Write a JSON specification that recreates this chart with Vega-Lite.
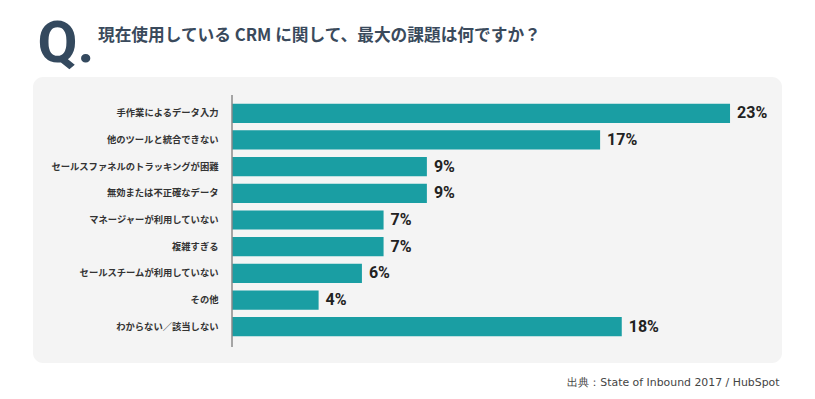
{
  "$schema": "https://vega.github.io/schema/vega-lite/v6.json",
  "width": 749,
  "height": 286,
  "autosize": {"type": "none"},
  "padding": {"left": 33, "top": 77, "right": 33, "bottom": 36},
  "background": "#ffffff",
  "title": {
    "text": "現在使用している CRM に関して、最大の課題は何ですか？",
    "anchor": "start",
    "frame": "group",
    "dx": 65,
    "dy": 43,
    "offset": 0,
    "fontSize": 16.7,
    "fontWeight": "bold",
    "color": "#3a4a5c",
    "font": "Noto Sans CJK JP",
    "baseline": "alphabetic"
  },
  "config": {
    "view": {"fill": "#f4f4f4", "stroke": null, "cornerRadius": 10}
  },
  "data": {
    "values": [
      {"item": "手作業によるデータ入力", "value": 23},
      {"item": "他のツールと統合できない", "value": 17},
      {"item": "セールスファネルのトラッキングが困難", "value": 9},
      {"item": "無効または不正確なデータ", "value": 9},
      {"item": "マネージャーが利用していない", "value": 7},
      {"item": "複雑すぎる", "value": 7},
      {"item": "セールスチームが利用していない", "value": 6},
      {"item": "その他", "value": 4},
      {"item": "わからない／該当しない", "value": 18}
    ]
  },
  "transform": [{"calculate": "datum.value + '%'", "as": "label"}],
  "layer": [
    {
      "mark": {"type": "bar", "color": "#1a9ea3"},
      "encoding": {
        "y": {
          "field": "item",
          "type": "nominal",
          "sort": null,
          "scale": {"paddingInner": 0.28, "paddingOuter": 1.04},
          "axis": {
            "orient": "left",
            "offset": -199,
            "domain": false,
            "ticks": false,
            "labelPadding": 14,
            "labelFont": "Noto Sans CJK JP",
            "labelFontSize": 9.3,
            "labelFontWeight": "bold",
            "labelColor": "#333333",
            "labelLimit": 0,
            "title": "Q.",
            "titleAngle": 0,
            "titleX": -195,
            "titleY": -16,
            "titleFontSize": 58,
            "titleFont": "Roboto",
            "titleFontWeight": "bold",
            "titleColor": "#34495e",
            "titleAlign": "left",
            "titleBaseline": "alphabetic"
          }
        },
        "x": {
          "field": "value",
          "type": "quantitative",
          "scale": {"domain": [-9.19, 25.4], "nice": false, "zero": false},
          "axis": {
            "orient": "bottom",
            "labels": false,
            "ticks": false,
            "domain": false,
            "grid": false,
            "title": "出典：State of Inbound 2017 / HubSpot",
            "titleX": 746,
            "titleY": 22,
            "titleAlign": "right",
            "titleBaseline": "alphabetic",
            "titleFontSize": 10.9,
            "titleFont": "DejaVu Sans",
            "titleFontWeight": "normal",
            "titleColor": "#444444"
          }
        },
        "x2": {"datum": 0}
      }
    },
    {
      "mark": {
        "type": "text",
        "align": "left",
        "baseline": "middle",
        "dx": 7,
        "font": "Roboto",
        "fontSize": 16,
        "fontWeight": "bold",
        "color": "#222222"
      },
      "encoding": {
        "y": {"field": "item", "type": "nominal", "sort": null},
        "x": {"field": "value", "type": "quantitative"},
        "text": {"field": "label"}
      }
    },
    {
      "data": {"values": [{"axis": "y"}]},
      "mark": {"type": "rule", "color": "#8a8a8a", "strokeWidth": 1.5},
      "encoding": {
        "x": {"datum": 0},
        "y": {"datum": "手作業によるデータ入力", "type": "nominal", "bandPosition": -0.45},
        "y2": {"datum": "わからない／該当しない", "bandPosition": 1.55}
      }
    }
  ]
}
